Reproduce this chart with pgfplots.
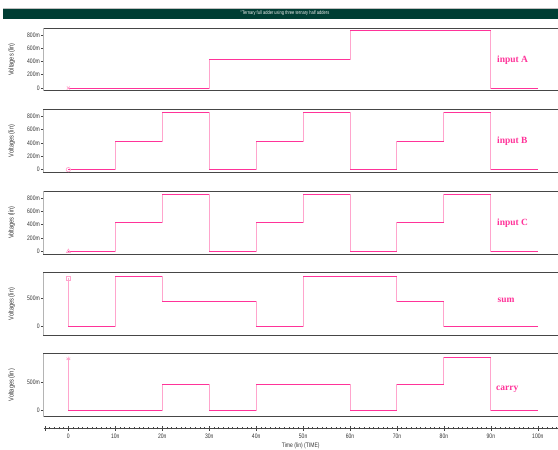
\documentclass[border=0pt]{standalone}
\usepackage{fontspec}
\setmainfont{Liberation Sans}
\newfontfamily\narrowfont[FakeStretch=0.78]{Liberation Sans}
\newfontfamily\labelfont{Liberation Serif}
\usepackage{pgfplots}
\usepackage{pgfplotstable}
\pgfplotsset{compat=1.18}
\definecolor{trace}{RGB}{255,51,153}
\definecolor{tracepale}{RGB}{255,165,205}
\definecolor{framedark}{RGB}{70,70,70}
\definecolor{framegray}{RGB}{180,180,180}
\definecolor{titlegreen}{RGB}{0,62,52}

\pgfplotstableread{
t v
0 0
30 0.43
60 0.86
90 0
100 0
}\inA
\pgfplotstableread{
t v
0 0
10 0.43
20 0.86
30 0
40 0.43
50 0.86
60 0
70 0.43
80 0.86
90 0
100 0
}\inB
\pgfplotstableread{
t v
0 0
10 0.43
20 0.86
30 0
40 0.43
50 0.86
60 0
70 0.43
80 0.86
90 0
100 0
}\inC
\pgfplotstableread{
t v
0 0.87
0 0
10 0.90
20 0.45
40 0
50 0.90
70 0.45
80 0
100 0
}\sumt
\pgfplotstableread{
t v
0 0.92
0 0
20 0.46
30 0
40 0.46
60 0
70 0.46
80 0.93
90 0
100 0
}\carryt

\pgfplotsset{
 panel/.style={
  scale only axis, width=514.5bp, height=62.5bp,
  xmin=-5.3, xmax=104.3,
  axis x line*=box, axis y line*=left,
  x axis line style={framedark, line width=0.9bp},
  y axis line style={framegray, line width=1.8bp},
  xtick=\empty,
  tick align=outside,
  major tick length=2.5bp,
  ytick style={framedark, line width=0.5bp},
  yticklabel style={font=\narrowfont\fontsize{6.5}{7}\selectfont, inner sep=1bp, text=black!80},
  ylabel={Voltages (lin)},
  every axis y label/.style={at={(axis description cs:-0.0615,0.5)}, rotate=90, anchor=center, font=\narrowfont\fontsize{7.2}{8}\selectfont, text=black!80},
 },
 inpanel/.style={panel, ymin=-0.04, ymax=0.90,
  ytick={0,0.2,0.4,0.6,0.8}, yticklabels={0,200m,400m,600m,800m}},
 outpanel/.style={panel, ytick={0,0.5}, yticklabels={0,500m}},
 pale/.style={tracepale, line width=1bp, const plot, no marks},
 strong/.style={trace, line width=1bp, jump mark left, no marks},
 startmark/.style={tracepale, only marks, mark size=2.2bp, mark options={line width=0.7bp}},
}

\begin{document}
\begin{tikzpicture}
\useasboundingbox (0bp,0bp) rectangle (558bp,450bp);
% title band
\fill[titlegreen] (3bp,431.3bp) rectangle (558bp,441.3bp);
\draw[gray!50, line width=0.5bp] (3bp,441.6bp) -- (558bp,441.6bp);
\node[text=white!90!gray, font=\narrowfont\fontsize{5.2}{6}\selectfont] at (285bp,436.4bp) {"Ternary full adder using three ternary half adders};

% input A
\begin{axis}[inpanel, at={(43.5bp,359.3bp)}, anchor=south west]
\addplot[pale] table[x=t,y=v] {\inA};
\addplot[strong] table[x=t,y=v] {\inA};
\addplot[startmark, mark=x] coordinates {(0,0)};
\end{axis}
% input B
\begin{axis}[inpanel, at={(43.5bp,277.7bp)}, anchor=south west]
\addplot[pale] table[x=t,y=v] {\inB};
\addplot[strong] table[x=t,y=v] {\inB};
\addplot[startmark, mark=o] coordinates {(0,0)};
\end{axis}
% input C
\begin{axis}[inpanel, at={(43.5bp,196bp)}, anchor=south west]
\addplot[pale] table[x=t,y=v] {\inC};
\addplot[strong] table[x=t,y=v] {\inC};
\addplot[startmark, mark=triangle] coordinates {(0,0)};
\end{axis}
% sum
\begin{axis}[outpanel, at={(43.5bp,114.7bp)}, anchor=south west, height=62.6bp, ymin=-0.165, ymax=0.965]
\addplot[pale] table[x=t,y=v] {\sumt};
\addplot[strong] table[x=t,y=v] {\sumt};
\addplot[startmark, mark=square] coordinates {(0,0.86)};
\end{axis}
% carry
\begin{axis}[outpanel, at={(43.5bp,33.3bp)}, anchor=south west, height=63bp, ymin=-0.11, ymax=1.0]
\addplot[pale] table[x=t,y=v] {\carryt};
\addplot[strong] table[x=t,y=v] {\carryt};
\addplot[startmark, mark=asterisk] coordinates {(0,0.91)};
\end{axis}
% time axis
\begin{axis}[scale only axis, width=514.5bp, height=1bp, at={(43.5bp,21.7bp)}, anchor=south west,
  xmin=-5.3, xmax=104.3, ymin=0, ymax=1,
  axis x line*=bottom, axis y line=none,
  x axis line style={framedark, line width=0.8bp},
  xtick={0,10,20,30,40,50,60,70,80,90,100},
  xticklabels={0,10n,20n,30n,40n,50n,60n,70n,80n,90n,100n},
  extra x ticks={-5}, extra x tick labels={},
  minor xtick={-4,-3,...,104},
  tick align=center, major tick length=5bp, minor tick length=2bp,
  tick style={framedark, line width=0.5bp},
  xticklabel style={font=\narrowfont\fontsize{6.5}{7}\selectfont, text=black!80, inner sep=0pt, anchor=north, yshift=-3bp},
  xlabel={Time (lin) (TIME)},
  every axis x label/.style={at={(axis description cs:0.5,0)}, anchor=center, yshift=-17.5bp, font=\narrowfont\fontsize{6.5}{7}\selectfont, text=black!80},
]
\addplot[draw=none] coordinates {(0,0)};
\end{axis}

% panel labels
\begin{scope}[every node/.style={anchor=west, text=trace, font=\labelfont\bfseries\fontsize{9.5}{10}\selectfont, inner sep=0pt}]
\node at (497bp,390bp) {input A};
\node at (497bp,309bp) {input B};
\node at (497bp,227bp) {input C};
\node at (497.5bp,150bp) {sum};
\node at (496bp,61bp) {carry};
\end{scope}
\end{tikzpicture}
\end{document}
